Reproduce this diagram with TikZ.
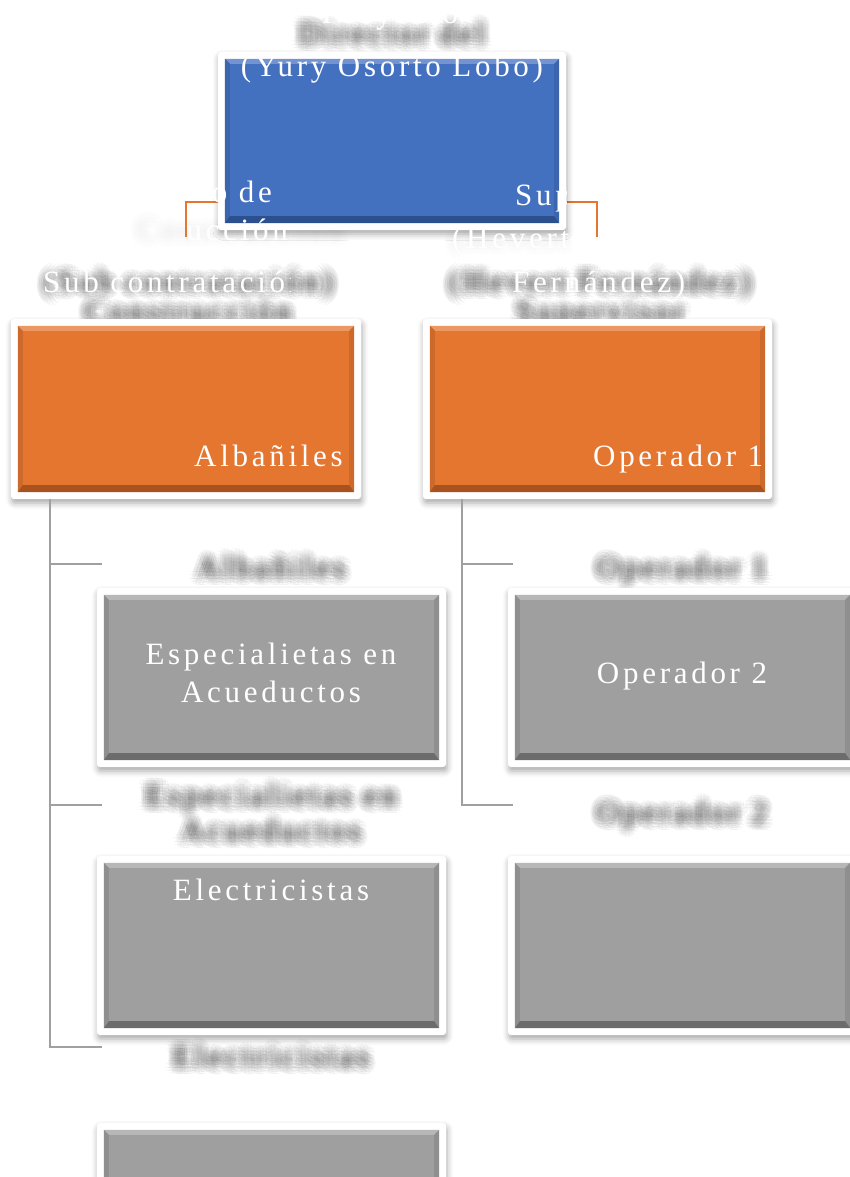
\documentclass[tikz,border=0pt]{standalone}
\usepackage{fontspec}
\setmainfont{Liberation Serif}[LetterSpace=12]
\usetikzlibrary{shadows.blur,calc}
\definecolor{cblue}{HTML}{4470C0}
\definecolor{cbluedk}{HTML}{2C4F8E}
\definecolor{corange}{HTML}{E47630}
\definecolor{corangedk}{HTML}{A8531F}
\definecolor{cgray}{HTML}{9F9F9F}
\definecolor{cgraydk}{HTML}{6C6C6C}
\definecolor{cline}{HTML}{A0A0A0}
\tikzset{
  outerbox/.style={rectangle, rounded corners=3pt, fill=white, inner sep=0pt,
    blur shadow={shadow xshift=1pt, shadow yshift=-4pt, shadow blur radius=6pt, shadow opacity=35}},
  innerbox/.style={rectangle, inner sep=0pt},
  lbl/.style={text=white, font=\fontsize{31}{38}\selectfont, inner sep=0pt, align=center},
  blurtxt/.style={font=\fontsize{31}{38}\selectfont, inner sep=0pt, align=center},
  conn/.style={draw=cline, line width=1.6pt},
  bracket/.style={draw=corange, line width=1.6pt}
}
\newcommand\bevbox[7]{%
  \node[outerbox, minimum width=#4pt, minimum height=#5pt] (#1) at (#2,#3) {};
  \node[innerbox, fill=#6, minimum width=#4pt-14pt, minimum height=#5pt-14pt] (#1i) at (#2,#3) {};
  \fill[#6!75!white] (#1i.north west) -- (#1i.north east) -- ([shift={(-5pt,-5pt)}]#1i.north east) -- ([shift={(5pt,-5pt)}]#1i.north west) -- cycle;
  \fill[#6!90!black] (#1i.north west) -- (#1i.south west) -- ([shift={(5pt,7pt)}]#1i.south west) -- ([shift={(5pt,-5pt)}]#1i.north west) -- cycle;
  \fill[#6!90!black] (#1i.north east) -- (#1i.south east) -- ([shift={(-5pt,7pt)}]#1i.south east) -- ([shift={(-5pt,-5pt)}]#1i.north east) -- cycle;
  \fill[#7] (#1i.south west) -- (#1i.south east) -- ([shift={(-5pt,7pt)}]#1i.south east) -- ([shift={(5pt,7pt)}]#1i.south west) -- cycle;
}
% blurred text shadow: many faint copies of the text on rings
\newcommand\blurlbl[4][black!85]{%
  \foreach \r/\n in {2/8,4/10,6/12,8/14}{%
    \foreach \k in {1,...,\n}{%
      \node[blurtxt, text=#1, opacity=0.038, anchor=base] at ([shift={({360*\k/\n+17*\r}:\r pt)}]#2,#3) {#4};}}
}
\begin{document}
\begin{tikzpicture}[x=1pt,y=-1pt]
\useasboundingbox (0,0) rectangle (850,1177);
\clip (0,0) rectangle (850,1177);
% blurred text shadows
\blurlbl{392}{44}{Director del}
\blurlbl{188}{292}{(Sub contratación)}
\blurlbl{188}{322}{Construcción}
\blurlbl{600}{292}{(Hevert Fernández)}
\blurlbl{600}{322}{Supervisor}
\blurlbl[black!10]{240}{240}{Construcción}
\blurlbl[black!10]{510}{248}{(Hevert}
\blurlbl{271}{578}{Albañiles}
\blurlbl{682}{578}{Operador 1}
\blurlbl{271}{806}{Especialietas en}
\blurlbl{271}{841}{Acueductos}
\blurlbl{682}{823}{Operador 2}
\blurlbl{271}{1067}{Electricistas}
% bracket
\coordinate (bl1) at (186,237);
\coordinate (bl2) at (230,202);
\coordinate (br1) at (597,237);
\coordinate (br2) at (555,202);
\draw[bracket] (bl1) |- (bl2);
\draw[bracket] (br1) |- (br2);
% top text
\node[lbl, anchor=base] (proy) at (390,24) {Proyecto};
% boxes
\bevbox{dir}{392}{141}{348}{178}{cblue}{cbluedk}
\bevbox{oL}{186}{409}{350}{180}{corange}{corangedk}
\bevbox{oR}{597.5}{409}{349}{180}{corange}{corangedk}
\bevbox{gL1}{271.5}{677.5}{349}{179}{cgray}{cgraydk}
\bevbox{gL2}{271.5}{945.5}{349}{179}{cgray}{cgraydk}
\bevbox{gL3}{271.5}{1212.5}{349}{179}{cgray}{cgraydk}
\bevbox{gR1}{682.5}{677.5}{349}{179}{cgray}{cgraydk}
\bevbox{gR2}{682.5}{945.5}{349}{179}{cgray}{cgraydk}
% connectors
\coordinate (lv) at (50,499);
\coordinate (lt1) at (102,564);
\coordinate (lt2) at (102,805);
\coordinate (lt3) at (102,1047);
\coordinate (rv) at (462,499);
\coordinate (rt1) at (513,564);
\coordinate (rt2) at (513,805);
\draw[conn] (lv) |- (lt3);
\draw[conn] (lv |- lt1) -- (lt1);
\draw[conn] (lv |- lt2) -- (lt2);
\draw[conn] (rv) |- (rt2);
\draw[conn] (rv |- rt1) -- (rt1);
% white texts
\node[lbl, anchor=base] (yury) at (392,77) {(Yury Osorto Lobo)};
\begin{scope}
  \clip (205,170) rectangle (290,210);
  \node[lbl, anchor=base east] (t1) at (272,203) {Maestro de};
\end{scope}
\begin{scope}
  \clip (186,212) rectangle (290,250);
  \node[lbl, anchor=base east] (t2) at (288,240) {Construcción};
\end{scope}
\begin{scope}
  \clip (45,262) rectangle (290,302);
  \node[lbl, anchor=base west] (t3) at (43,292) {Sub contratación};
\end{scope}
\begin{scope}
  \clip (500,170) rectangle (566,212);
  \node[lbl, anchor=base west] (t4) at (515,205) {Supervisor};
\end{scope}
\begin{scope}
  \clip (440,215) rectangle (570,255);
  \node[lbl, anchor=base west] (t5) at (452,248) {(Hevert};
\end{scope}
\node[lbl, anchor=base west] (t6) at (512,292) {Fernández)};
\node[lbl, anchor=base east] (alb) at (343,466) {Albañiles};
\begin{scope}
  \clip (430,420) rectangle (770,480);
  \node[lbl, anchor=base west] (op1) at (593,466) {Operador 1};
\end{scope}
\node[lbl, anchor=base] (esp) at (271,702) {Especialietas en\\Acueductos};
\node[lbl, anchor=base] (op2) at (682,683) {Operador 2};
\node[lbl, anchor=base] (ele) at (271,900) {Electricistas};
\end{tikzpicture}
\end{document}
